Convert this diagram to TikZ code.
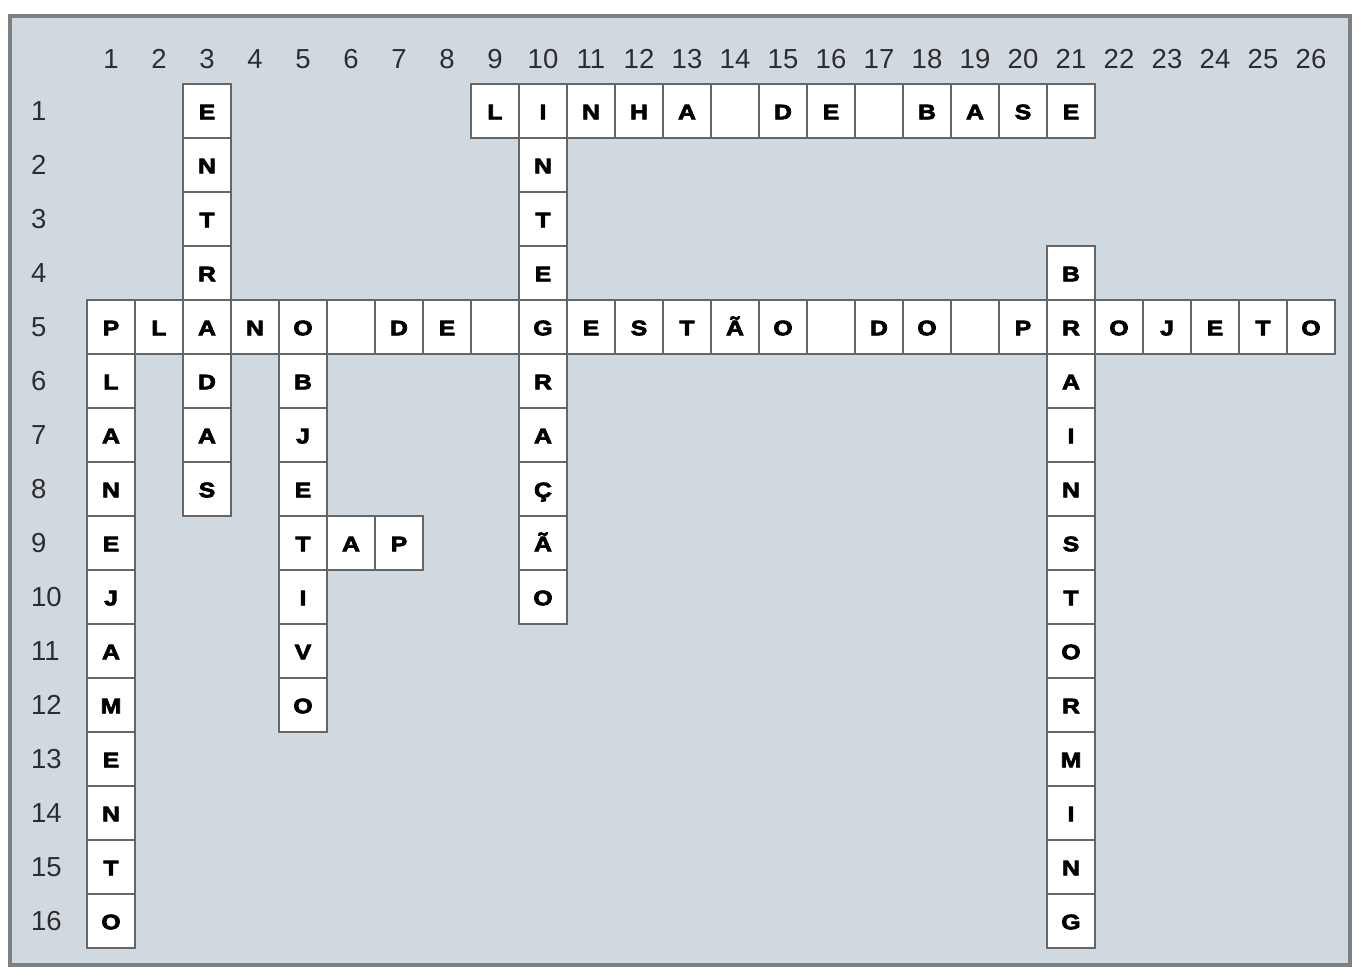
\documentclass[tikz,border=0pt]{standalone}
\usepackage{fontspec}
\setmainfont{Liberation Sans}
\newfontface\cellfont[FakeStretch=1.18,FakeBold=3.5]{Liberation Sans Bold}
\definecolor{bgfill}{RGB}{208,216,224}
\definecolor{framecol}{RGB}{128,128,128}
\definecolor{cellline}{RGB}{102,102,102}
\definecolor{numcol}{RGB}{45,45,45}
\tikzset{
  cellbox/.style={draw=cellline, fill=white, line width=2pt, inner sep=0pt,
    minimum width=48pt, minimum height=54pt, text height=16.5pt, text depth=0pt,
    font=\fontsize{21}{22}\cellfont},
  numlab/.style={inner sep=0pt, text=numcol, font=\fontsize{27.5}{30}\selectfont},
  frame/.style={draw=framecol, fill=bgfill, line width=4pt}
}
\newcommand\HWord[3]{% row, start col, letters
  \foreach \ch [count=\i from 0] in {#3}{%
    \pgfmathtruncatemacro\cc{#2+\i}%
    \node[cellbox] (h-#1-\cc) at ({111+48*(\cc-1)},{111+54*(#1-1)}) {\ch};}}
\newcommand\VWord[3]{% col, start row, letters
  \foreach \ch [count=\i from 0] in {#3}{%
    \pgfmathtruncatemacro\rr{#2+\i}%
    \node[cellbox] (v-\rr-#1) at ({111+48*(#1-1)},{111+54*(\rr-1)}) {\ch};}}
\begin{document}
\begin{tikzpicture}[x=1pt,y=-1pt]
\useasboundingbox (0,0) rectangle (1363,980);
\path[frame] (10,16) rectangle (1350,965);
\foreach \c in {1,...,26}
  \node[numlab, anchor=base] (col\c) at ({111+48*(\c-1)},68) {\c};
\foreach \r in {1,...,16}
  \node[numlab, anchor=base west] (row\r) at (31,{120+54*(\r-1)}) {\r};
% vertical words
\VWord{3}{1}{E,N,T,R,A,D,A,S}
\VWord{10}{1}{I,N,T,E,G,R,A,Ç,Ã,O}
\VWord{21}{4}{B,R,A,I,N,S,T,O,R,M,I,N,G}
\VWord{1}{5}{P,L,A,N,E,J,A,M,E,N,T,O}
\VWord{5}{5}{O,B,J,E,T,I,V,O}
% horizontal words
\HWord{1}{9}{L,I,N,H,A,{},D,E,{},B,A,S,E}
\HWord{5}{1}{P,L,A,N,O,{},D,E,{},G,E,S,T,Ã,O,{},D,O,{},P,R,O,J,E,T,O}
\HWord{9}{5}{T,A,P}
\end{tikzpicture}
\end{document}
